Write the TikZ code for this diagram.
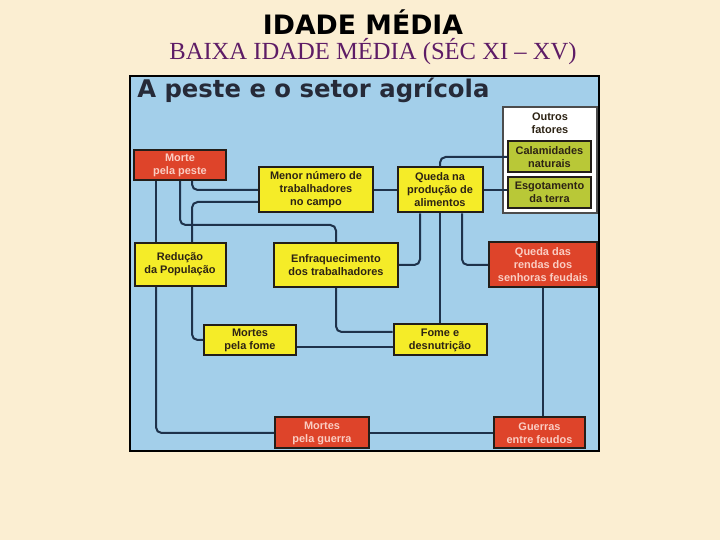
\documentclass[tikz,border=0pt]{standalone}
\usepackage{fontspec}
\setmainfont{Liberation Sans}
\newfontfamily\headfont{DejaVu Sans}
\newfontfamily\subfont{Liberation Serif}
\usetikzlibrary{positioning,calc}

\definecolor{paper}{RGB}{251,238,210}
\definecolor{panelblue}{RGB}{163,207,234}
\definecolor{linkblue}{RGB}{30,50,75}
\definecolor{boxedge}{RGB}{35,30,25}
\definecolor{boxyellow}{RGB}{245,236,40}
\definecolor{boxred}{RGB}{222,68,42}
\definecolor{boxgreen}{RGB}{185,200,55}
\definecolor{boxtext}{RGB}{45,35,20}
\definecolor{boxpink}{RGB}{250,205,195}
\definecolor{subpurple}{RGB}{94,28,102}
\definecolor{titlegray}{RGB}{38,42,56}

\begin{document}
\begin{tikzpicture}[
  box/.style={draw=boxedge, line width=0.05cm, align=center, inner sep=1pt,
              font=\fontsize{7.8}{9.3}\selectfont\bfseries},
  ybox/.style={box, fill=boxyellow, text=boxtext},
  rbox/.style={box, fill=boxred, text=boxpink},
  gbox/.style={box, fill=boxgreen, text=boxtext},
  link/.style={draw=linkblue, line width=0.05cm, rounded corners=4pt},
]
% --- page and headings ---
\fill[paper] (0,0) rectangle (18,13.5);
\node[font=\headfont\bfseries\fontsize{19}{21}\selectfont] (head) at (9.075,12.95) {IDADE MÉDIA};
\node[font=\subfont\fontsize{17.5}{19}\selectfont, text=subpurple] (subhead) at (9.325,12.2) {BAIXA IDADE MÉDIA (SÉC XI – XV)};

% --- panel ---
\filldraw[fill=panelblue, draw=black, line width=0.05cm] (3.25,2.225) rectangle (14.975,11.6);
\node[anchor=west, font=\headfont\bfseries\fontsize{17.3}{19}\selectfont, text=titlegray, inner sep=0pt] (ptitle) at (3.425,11.25) {A peste e o setor agrícola};

% --- other factors ---
\node[draw=black!70, line width=0.05cm, fill=white, minimum width=2.35cm, minimum height=2.65cm] (outros) at (13.75,9.5) {};
\node[font=\fontsize{7.8}{9.3}\selectfont\bfseries, text=boxtext, align=center] (outrostxt) at (13.75,10.43) {Outros\\fatores};
\node[gbox, minimum width=2.075cm, minimum height=0.775cm] (calam) at (13.7375,9.575) {Calamidades\\naturais};
\node[gbox, minimum width=2.075cm, minimum height=0.775cm] (esgot) at (13.7375,8.6875) {Esgotamento\\da terra};

% --- top row ---
\node[rbox, minimum width=2.3cm, minimum height=0.75cm] (peste) at (4.5,9.375) {Morte\\pela peste};
\node[ybox, minimum width=2.85cm, minimum height=1.125cm] (menor) at (7.9,8.75) {Menor número de\\trabalhadores\\no campo};
\node[ybox, minimum width=2.125cm, minimum height=1.125cm] (queda) at (11.0,8.75) {Queda na\\produção de\\alimentos};

% --- middle row ---
\node[ybox, minimum width=2.275cm, minimum height=1.075cm] (reducao) at (4.5,6.8875) {Redução\\da População};
\node[ybox, minimum width=3.1cm, minimum height=1.1cm] (enfraq) at (8.4,6.875) {Enfraquecimento\\dos trabalhadores};
\node[rbox, minimum width=2.7cm, minimum height=1.125cm] (rendas) at (13.575,6.875) {Queda das\\rendas dos\\senhoras feudais};

% --- lower rows ---
\node[ybox, minimum width=2.3cm, minimum height=0.75cm] (mfome) at (6.25,5.0) {Mortes\\pela fome};
\node[ybox, minimum width=2.325cm, minimum height=0.775cm] (fome) at (11.0,5.0) {Fome e\\desnutrição};
\node[rbox, minimum width=2.35cm, minimum height=0.775cm] (mguerra) at (8.05,2.675) {Mortes\\pela guerra};
\node[rbox, minimum width=2.275cm, minimum height=0.775cm] (guerras) at (13.4875,2.675) {Guerras\\entre feudos};

% --- connectors ---
\draw[link] ([xshift=-0.6cm]peste.south) -- ([xshift=-0.6cm]peste.south |- reducao.north);
\draw[link] ([xshift=-0.6cm]reducao.south) |- (mguerra.west);
\draw[link] ([xshift=0.3cm]peste.south) |- (menor.west);
\draw[link] (peste.south) -- ++(0,-1.1) -| (enfraq.north);
\draw[link] ([yshift=-0.3cm]menor.west) -| ([xshift=0.3cm]reducao.north);
\draw[link] ([xshift=0.3cm]reducao.south) |- (mfome.west);
\draw[link] (menor.east) -- (queda.west);
\draw[link] (queda.east) -- (queda.east -| esgot.west);
\draw[link] (queda.north) |- (calam.west);
\draw[link] ([xshift=-0.5cm]queda.south) |- (enfraq.east);
\draw[link] (queda.south) -- (fome.north);
\draw[link] ([xshift=0.55cm]queda.south) |- (rendas.west);
\draw[link] (enfraq.south) |- ([yshift=0.2cm]fome.west);
\draw[link] ([yshift=-0.175cm]mfome.east) -- ([yshift=-0.175cm]mfome.east -| fome.west);
\draw[link] (rendas.south) -- (rendas.south |- guerras.north);
\draw[link] (mguerra.east) -- (guerras.west);
\end{tikzpicture}
\end{document}
